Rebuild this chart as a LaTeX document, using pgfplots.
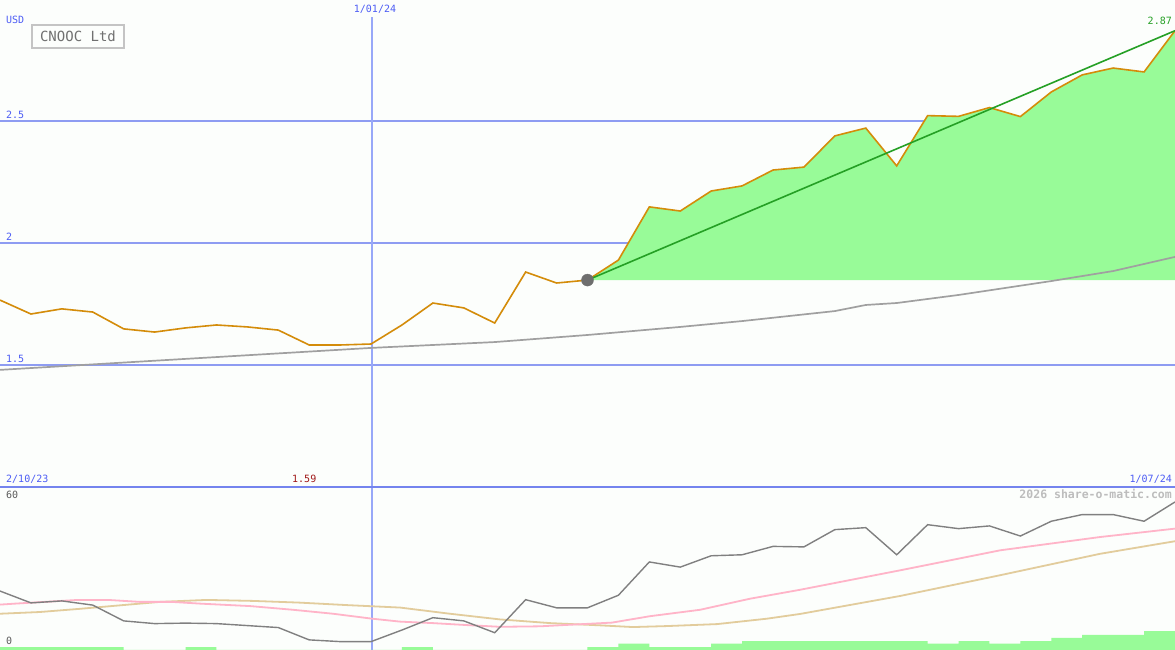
\documentclass[border=0pt]{standalone}
\usepackage{pgfplots}
\pgfplotsset{compat=1.18}
\usepackage{fontspec}
\setmainfont{DejaVu Sans Mono}
\setmonofont{DejaVu Sans Mono}
\definecolor{bg}{HTML}{FCFEFC}
\definecolor{pricec}{HTML}{D48C0A}
\definecolor{fillg}{HTML}{98FB98}
\definecolor{trendg}{HTML}{25A025}
\definecolor{mac}{HTML}{A0A0A0}
\definecolor{gridb}{HTML}{8E9CF2}
\definecolor{vlineb}{HTML}{98A8F8}
\definecolor{sepb}{HTML}{7484EE}
\definecolor{labb}{HTML}{4D5DF5}
\definecolor{labr}{HTML}{A01818}
\definecolor{osc}{HTML}{808080}
\definecolor{pinkc}{HTML}{FFB4C8}
\definecolor{tanc}{HTML}{E2CC9C}
\definecolor{wm}{HTML}{BDBDBD}
\definecolor{boxc}{HTML}{C4C4C4}
\definecolor{boxt}{HTML}{707070}
\definecolor{lowt}{HTML}{5A5A5A}
\definecolor{dotc}{HTML}{6E6E6E}
\begin{document}
\begin{tikzpicture}[font=\fontsize{10}{12}\selectfont]
\fill[bg] (0,0) rectangle (1175pt,650pt);
% upper panel
\begin{axis}[at={(0pt,163pt)}, anchor=south west, width=1175pt, height=487pt, scale only axis,
  xmin=0, xmax=38, ymin=1, ymax=2.9959, hide axis, clip=true]
\addplot[gridb, line width=1.5pt] coordinates {(0,1.5)(38,1.5)};
\addplot[gridb, line width=1.5pt] coordinates {(0,2.0)(38,2.0)};
\addplot[gridb, line width=1.5pt] coordinates {(0,2.5)(38,2.5)};
\addplot[draw=vlineb, line width=1.2pt] coordinates {(12.03,1)(12.03,2.926)};
\addplot[fill=fillg, draw=none] coordinates {(19,1.848)(20,1.930)(21,2.148)(22,2.131)(23,2.213)(24,2.234)(25,2.299)(26,2.311)(27,2.439)(28,2.471)(29,2.316)(30,2.522)(31,2.519)(32,2.555)(33,2.518)(34,2.619)(35,2.689)(36,2.717)(37,2.701)(38,2.870)(38,1.848)(19,1.848)};
\addplot[mac, line width=1.7pt] coordinates {(0,1.480)(6,1.525)(12,1.570)(16,1.594)(19,1.623)(22,1.656)(24,1.680)(27,1.721)(28,1.746)(29,1.754)(31,1.787)(34,1.844)(36,1.885)(38,1.943)};
\addplot[pricec, line width=1.6pt] coordinates {(0,1.766)(1,1.709)(2,1.730)(3,1.717)(4,1.648)(5,1.635)(6,1.652)(7,1.664)(8,1.656)(9,1.643)(10,1.582)(11,1.582)(12,1.586)(13,1.664)(14,1.754)(15,1.734)(16,1.672)(17,1.881)(18,1.836)(19,1.848)(20,1.930)(21,2.148)(22,2.131)(23,2.213)(24,2.234)(25,2.299)(26,2.311)(27,2.439)(28,2.471)(29,2.316)(30,2.522)(31,2.519)(32,2.555)(33,2.518)(34,2.619)(35,2.689)(36,2.717)(37,2.701)(38,2.870)};
\addplot[only marks, mark=*, mark size=6pt, dotc, mark options={draw=none, fill=dotc}] coordinates {(19,1.848)};
\addplot[trendg, line width=1.6pt] coordinates {(19,1.848)(38,2.870)};
\end{axis}
% lower panel
\begin{axis}[at={(0pt,0pt)}, anchor=south west, width=1175pt, height=163pt, scale only axis,
  xmin=0, xmax=38, ymin=0, ymax=66.08, hide axis, clip=true]
\addplot[draw=vlineb, line width=1.2pt] coordinates {(12.03,0)(12.03,66.08)};
\addplot[const plot, fill=fillg, draw=none] coordinates {(0,1.2)(1,1.2)(2,1.2)(3,1.2)(4,0)(5,0)(6,1.2)(7,0)(8,0)(9,0)(10,0)(11,0)(12,0)(13,1.2)(14,0)(15,0)(16,0)(17,0)(18,0)(19,1.2)(20,2.6)(21,1.2)(22,1.2)(23,2.6)(24,3.6)(25,3.6)(26,3.6)(27,3.6)(28,3.6)(29,3.6)(30,2.6)(31,3.6)(32,2.6)(33,3.6)(34,4.9)(35,6.1)(36,6.1)(37,7.7)(38,7.7)} \closedcycle;
\addplot[tanc, line width=1.8pt] coordinates {(0,14.7)(1.29,15.4)(2.59,16.7)(3.88,18.1)(5.17,19.5)(6.69,20.3)(8.18,19.9)(9.70,19.2)(11.22,18.2)(12.94,17.2)(14.55,14.7)(16.17,12.4)(17.79,10.9)(19.40,10.0)(20.47,9.3)(21.57,9.7)(23.19,10.5)(24.81,12.7)(25.87,14.6)(29.11,21.9)(32.34,30.3)(35.58,39.0)(38,44.1)};
\addplot[pinkc, line width=1.8pt] coordinates {(0,18.4)(0.49,18.8)(2.52,20.3)(3.49,20.3)(4.53,19.5)(5.56,19.5)(6.47,18.8)(8.09,17.8)(9.48,16.3)(10.77,14.7)(12.03,12.7)(12.94,11.5)(14.0,10.9)(15.1,10.1)(16.17,9.4)(17.46,9.6)(18.53,10.3)(19.79,11.1)(21.02,13.7)(22.64,16.3)(24.26,20.8)(25.87,24.4)(29.11,32.3)(32.34,40.4)(35.58,45.8)(38,49.2)};
\addplot[osc, line width=1.4pt] coordinates {(0,23.9)(1,19.1)(2,19.9)(3,18.2)(4,11.8)(5,10.7)(6,10.9)(7,10.7)(8,9.9)(9,9.1)(10,4.1)(11,3.4)(12,3.4)(13,8.1)(14,13.1)(15,11.8)(16,7.0)(17,20.4)(18,17.1)(19,17.1)(20,22.2)(21,35.7)(22,33.6)(23,38.2)(24,38.6)(25,42.0)(26,41.8)(27,48.8)(28,49.6)(29,38.6)(30,50.8)(31,49.2)(32,50.3)(33,46.2)(34,52.2)(35,54.9)(36,54.9)(37,52.2)(38,60.0)};
\end{axis}
% separator
\draw[sepb, line width=2pt] (0pt,163pt) -- (1175pt,163pt);
% labels
\node[anchor=base west, text=labb, inner sep=0pt] at (6pt,626pt) {USD};
\node[draw=boxc, line width=1.6pt, text=boxt, minimum width=92pt, minimum height=23pt, inner sep=0pt, font=\fontsize{14}{16}\selectfont] at (78pt,613.5pt) {CNOOC Ltd};
\node[anchor=base, text=labb, inner sep=0pt] at (375pt,637pt) {1/01/24};
\node[anchor=base east, text=trendg, inner sep=0pt] at (1172pt,625pt) {2.87};
\node[anchor=base west, text=labb, inner sep=0pt] at (6pt,531pt) {2.5};
\node[anchor=base west, text=labb, inner sep=0pt] at (6pt,409pt) {2};
\node[anchor=base west, text=labb, inner sep=0pt] at (6pt,287pt) {1.5};
\node[anchor=base west, text=labb, inner sep=0pt] at (6pt,167pt) {2/10/23};
\node[anchor=base west, text=labr, inner sep=0pt] at (292pt,167pt) {1.59};
\node[anchor=base east, text=labb, inner sep=0pt] at (1172pt,167pt) {1/07/24};
\node[anchor=base west, text=lowt, inner sep=0pt] at (6pt,151pt) {60};
\node[anchor=base west, text=lowt, inner sep=0pt] at (6pt,5pt) {0};
\node[anchor=base east, text=wm, inner sep=0pt, font=\fontsize{11.5}{13}\bfseries\selectfont] at (1172pt,151pt) {2026 share-o-matic.com};
\pgfresetboundingbox
\path (0pt,0pt) rectangle (1175pt,650pt);
\end{tikzpicture}
\end{document}
